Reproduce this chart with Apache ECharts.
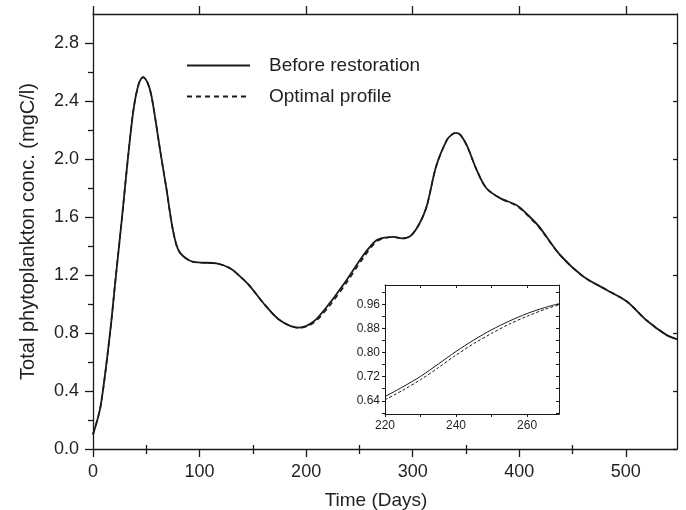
<!DOCTYPE html>
<html>
<head>
<meta charset="utf-8">
<script src="https://cdn.jsdelivr.net/npm/echarts@6/dist/echarts.min.js"></script>
</head>
<body style="margin:0;background:#fff;">
<div id="chart" style="width:686px;height:510px;"></div>
<script type="text/javascript">
    // main curve
    var days = [0, 7, 16, 21, 27, 32, 38, 43, 47, 51, 55, 63, 69, 75, 81, 94, 116, 129, 138, 147, 160, 175, 193, 207, 222, 238, 254, 266, 276, 282, 290, 298, 306, 313, 322, 332, 337, 341, 345, 351, 360, 369, 382, 398, 410, 419, 438, 460, 482, 501, 519, 538, 548];
    var before = [0.10, 0.29, 0.80, 1.16, 1.58, 1.95, 2.34, 2.52, 2.565, 2.53, 2.43, 2.06, 1.79, 1.51, 1.36, 1.29, 1.28, 1.245, 1.19, 1.125, 1.005, 0.89, 0.837, 0.879, 1.005, 1.166, 1.34, 1.44, 1.46, 1.463, 1.452, 1.47, 1.55, 1.67, 1.95, 2.13, 2.17, 2.18, 2.165, 2.09, 1.925, 1.80, 1.73, 1.68, 1.60, 1.53, 1.34, 1.19, 1.097, 1.017, 0.89, 0.787, 0.757];
    var optimal = [0.10, 0.29, 0.80, 1.16, 1.58, 1.95, 2.34, 2.52, 2.565, 2.53, 2.43, 2.06, 1.79, 1.51, 1.36, 1.29, 1.28, 1.245, 1.19, 1.125, 1.005, 0.89, 0.835, 0.870, 0.988, 1.148, 1.322, 1.43, 1.458, 1.463, 1.452, 1.47, 1.55, 1.67, 1.95, 2.13, 2.17, 2.18, 2.165, 2.09, 1.925, 1.80, 1.73, 1.675, 1.595, 1.525, 1.34, 1.19, 1.097, 1.017, 0.89, 0.787, 0.757];

    // inset
    var insetDays = [220, 225, 230, 235, 240, 245, 250, 255, 260, 265, 269];
    var insetBefore = [0.654, 0.686, 0.721, 0.762, 0.804, 0.842, 0.876, 0.905, 0.930, 0.950, 0.963];
    var insetOptimal = [0.643, 0.675, 0.710, 0.750, 0.792, 0.830, 0.864, 0.895, 0.921, 0.944, 0.959];

    // ticks
    var xTicks = [0, 100, 200, 300, 400, 500];
    var xMinor = [50, 150, 250, 350, 450];
    var yTicks = [0, 0.4, 0.8, 1.2, 1.6, 2.0, 2.4, 2.8];
    var yMinor = [0.2, 0.6, 1.0, 1.4, 1.8, 2.2, 2.6];
    var insetXTicks = [220, 240, 260];
    var insetXAll = [220, 230, 240, 250, 260];
    var insetYTicks = [0.64, 0.72, 0.80, 0.88, 0.96];
    var insetYAll = [0.60, 0.64, 0.68, 0.72, 0.76, 0.80, 0.84, 0.88, 0.92, 0.96, 1.00];

    function pairs(xs, ys) {
        var out = [];
        for (var i = 0; i < xs.length; i++) out.push([xs[i], ys[i]]);
        return out;
    }

    var ink = '#1a1a1a';
    var txt = '#231f20';
    var font = 'Liberation Sans, Arial, sans-serif';

    function ax(opt) {
        var base = {
            type: 'value',
            axisLine: {show: true, onZero: false, lineStyle: {color: ink, width: 1.3}},
            splitLine: {show: false},
            axisLabel: {show: false},
            axisTick: {show: false}
        };
        for (var k in opt) base[k] = opt[k];
        return base;
    }

    var chart = echarts.init(document.getElementById('chart'));
    var option = {
        animation: false,
        backgroundColor: '#fff',
        textStyle: {fontFamily: font},
        grid: [
            {left: 93, top: 14, width: 584, height: 435, outerBoundsMode: 'none'},
            {left: 385, top: 285, width: 174, height: 129, outerBoundsMode: 'none',
                show: true, backgroundColor: '#fff', borderWidth: 0}
        ],
        legend: {
            orient: 'vertical',
            left: 181,
            top: 51,
            itemWidth: 63,
            itemHeight: 14,
            itemGap: 12,
            data: ['Before restoration', 'Optimal profile'],
            itemStyle: {opacity: 0},
            textStyle: {fontSize: 19, color: txt, fontFamily: font, padding: [0, 0, 0, 14]}
        },
        xAxis: [
            ax({gridIndex: 0, position: 'bottom', min: 0, max: 548,
                axisTick: {show: true, length: 8, customValues: xTicks, lineStyle: {color: ink, width: 1.3}},
                axisLabel: {show: true, customValues: xTicks, fontSize: 18, color: txt, margin: 14, fontFamily: font},
                name: 'Time (Days)', nameLocation: 'middle', nameGap: 42,
                nameTextStyle: {fontSize: 19, color: txt, fontFamily: font, padding: [0, 18, 0, 0]}}),
            ax({gridIndex: 0, position: 'bottom', min: 0, max: 548, axisLine: {show: false},
                axisTick: {show: true, length: 5, customValues: xMinor, lineStyle: {color: ink, width: 1.3}}}),
            ax({gridIndex: 0, position: 'top', min: 0, max: 548,
                axisTick: {show: true, length: 8, customValues: xTicks, lineStyle: {color: ink, width: 1.3}}}),
            ax({gridIndex: 0, position: 'top', min: 0, max: 548, axisLine: {show: false},
                axisTick: {show: true, length: 4, customValues: xMinor, lineStyle: {color: ink, width: 1.3}}}),
            ax({gridIndex: 1, position: 'bottom', min: 220, max: 269,
                axisLine: {show: true, onZero: false, lineStyle: {color: ink, width: 1}},
                axisTick: {show: true, length: 3, customValues: insetXAll, lineStyle: {color: ink, width: 1}},
                axisLabel: {show: true, customValues: insetXTicks, fontSize: 12, color: txt, margin: 6, fontFamily: font}}),
            ax({gridIndex: 1, position: 'top', min: 220, max: 269,
                axisLine: {show: true, onZero: false, lineStyle: {color: ink, width: 1}},
                axisTick: {show: true, inside: true, length: 3, customValues: insetXAll, lineStyle: {color: ink, width: 1}}})
        ],
        yAxis: [
            ax({gridIndex: 0, position: 'left', min: 0, max: 3.0,
                axisTick: {show: true, length: 8, customValues: yTicks, lineStyle: {color: ink, width: 1.3}},
                axisLabel: {show: true, customValues: yTicks, fontSize: 18, color: txt, margin: 14, fontFamily: font,
                    formatter: function (v) { return v.toFixed(1); }},
                name: 'Total phytoplankton conc. (mgC/l)', nameLocation: 'middle', nameGap: 55,
                nameTextStyle: {fontSize: 20, color: txt, fontFamily: font, padding: [0, 0, 0, 0]}}),
            ax({gridIndex: 0, position: 'left', min: 0, max: 3.0, axisLine: {show: false},
                axisTick: {show: true, length: 5, customValues: yMinor, lineStyle: {color: ink, width: 1.3}}}),
            ax({gridIndex: 0, position: 'right', min: 0, max: 3.0,
                axisTick: {show: true, inside: true, length: 4, customValues: yTicks, lineStyle: {color: ink, width: 1.3}}}),
            ax({gridIndex: 1, position: 'left', min: 0.596, max: 1.025,
                axisLine: {show: true, onZero: false, lineStyle: {color: ink, width: 1}},
                axisTick: {show: true, length: 3, customValues: insetYAll, lineStyle: {color: ink, width: 1}},
                axisLabel: {show: true, customValues: insetYTicks, fontSize: 12, color: txt, margin: 5, fontFamily: font,
                    formatter: function (v) { return v.toFixed(2); }}}),
            ax({gridIndex: 1, position: 'right', min: 0.596, max: 1.025,
                axisLine: {show: true, onZero: false, lineStyle: {color: ink, width: 1}},
                axisTick: {show: true, inside: true, length: 3, customValues: insetYAll, lineStyle: {color: ink, width: 1}}})
        ],
        series: [
            {
                name: 'Optimal profile', type: 'line', xAxisIndex: 0, yAxisIndex: 0,
                data: pairs(days, optimal), smooth: 0.3, symbol: 'none',
                lineStyle: {color: ink, width: 1.6, type: [5, 4]}, itemStyle: {color: ink}, z: 2
            },
            {
                name: 'Before restoration', type: 'line', xAxisIndex: 0, yAxisIndex: 0,
                data: pairs(days, before), smooth: 0.3, symbol: 'none',
                lineStyle: {color: ink, width: 1.8, type: 'solid'}, itemStyle: {color: ink}, z: 3
            },
            {
                name: 'inset optimal', type: 'line', xAxisIndex: 4, yAxisIndex: 3,
                data: pairs(insetDays, insetOptimal), smooth: 0.3, symbol: 'none',
                lineStyle: {color: ink, width: 1, type: [3, 2]}
            },
            {
                name: 'inset before', type: 'line', xAxisIndex: 4, yAxisIndex: 3,
                data: pairs(insetDays, insetBefore), smooth: 0.3, symbol: 'none',
                lineStyle: {color: ink, width: 1, type: 'solid'}
            }
        ]
    };
    chart.setOption(option);
</script>
</body>
</html>
